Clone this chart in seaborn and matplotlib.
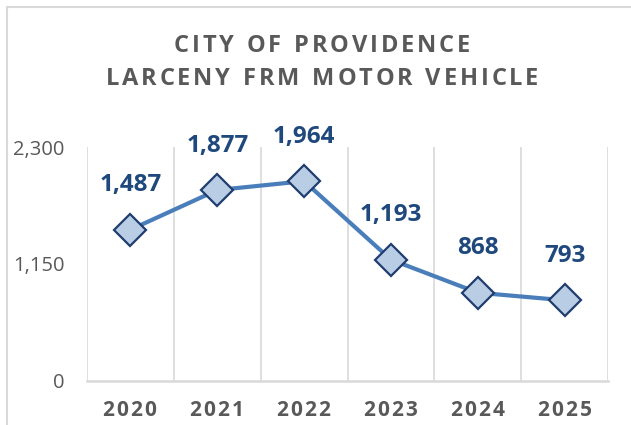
import numpy as np
import pandas as pd
import seaborn as sns
import matplotlib.pyplot as plt
from matplotlib.lines import Line2D

years = ['2020', '2021', '2022', '2023', '2024', '2025']
counts = [1487, 1877, 1964, 1193, 868, 793]
y_ticks = [0, 1150, 2300]
title_lines = ['CITY OF PROVIDENCE', 'LARCENY FRM MOTOR VEHICLE']

df = pd.DataFrame({'Year': years, 'Count': counts})

sns.set_theme(style='white')
plt.rcParams['font.family'] = ['Open Sans', 'DejaVu Sans']

GRAY = '#595959'
GRID = '#D9D9D9'

fig = plt.figure(figsize=(6.31, 4.25), dpi=100)
ax = fig.add_axes([87 / 631, 1 - 381 / 425, (608 - 87) / 631, (381 - 147) / 425])

sns.lineplot(data=df, x='Year', y='Count', ax=ax, color='#4A7EBB', lw=3,
             marker='D', markersize=16, markerfacecolor='#B9CDE5',
             markeredgecolor='#1F3D6E', markeredgewidth=1.6, zorder=3)

# data labels
for i, v in enumerate(counts):
    ax.annotate(f'{v:,}', (i, v), xytext=(0, 32), textcoords='offset points',
                ha='center', va='center', fontsize=17.5, fontweight='bold',
                color='#1F497D')

ax.set_xlim(-0.5, len(years) - 0.5)
ax.set_ylim(0, 2300)
ax.set_yticks(y_ticks)
ax.set_yticklabels([f'{v:,}' for v in y_ticks], color=GRAY, fontsize=14.5)
ax.set_xticks(range(len(years)))
ax.set_xticklabels(['\u200a'.join(y) for y in years], color=GRAY, fontsize=15, fontweight='bold')
ax.set_xticks(np.arange(-0.5, len(years)), minor=True)
ax.grid(which='minor', axis='x', color=GRID, lw=1.2)
ax.grid(which='major', visible=False)
ax.tick_params(which='both', length=0)
ax.tick_params(axis='y', pad=16)
ax.tick_params(axis='x', pad=14)
ax.set_xlabel('')
ax.set_ylabel('')
for side in ['top', 'right', 'left']:
    ax.spines[side].set_visible(False)
ax.spines['bottom'].set_color(GRID)
ax.spines['bottom'].set_linewidth(1.8)

# chart area border (partly cropped)
fig.add_artist(Line2D([7 / 631, 7 / 631], [0, 1 - 7 / 425], transform=fig.transFigure, color=GRID, lw=1.5))
fig.add_artist(Line2D([7 / 631, 1], [1 - 7 / 425, 1 - 7 / 425], transform=fig.transFigure, color=GRID, lw=1.5))


def spaced_text(x, y, s, tracking, **kw):
    # matplotlib has no letter spacing, so place characters one by one
    renderer = fig.canvas.get_renderer()
    widths = []
    for ch in s:
        t = fig.text(0, 0, ch if ch != ' ' else 'i', **kw)
        widths.append(t.get_window_extent(renderer).width)
        t.remove()
    total = sum(widths) + tracking * (len(s) - 1)
    x0 = x * fig.bbox.width - total / 2
    for ch, w in zip(s, widths):
        fig.text(x0 / fig.bbox.width, y, ch, ha='left', va='center', **kw)
        x0 += w + tracking


spaced_text(322 / 631, 1 - 46 / 425, title_lines[0], 2.8, fontsize=17, fontweight='bold', color=GRAY)
spaced_text(322 / 631, 1 - 79 / 425, title_lines[1], 2.8, fontsize=17, fontweight='bold', color=GRAY)

fig.savefig('out.png', dpi=100)
